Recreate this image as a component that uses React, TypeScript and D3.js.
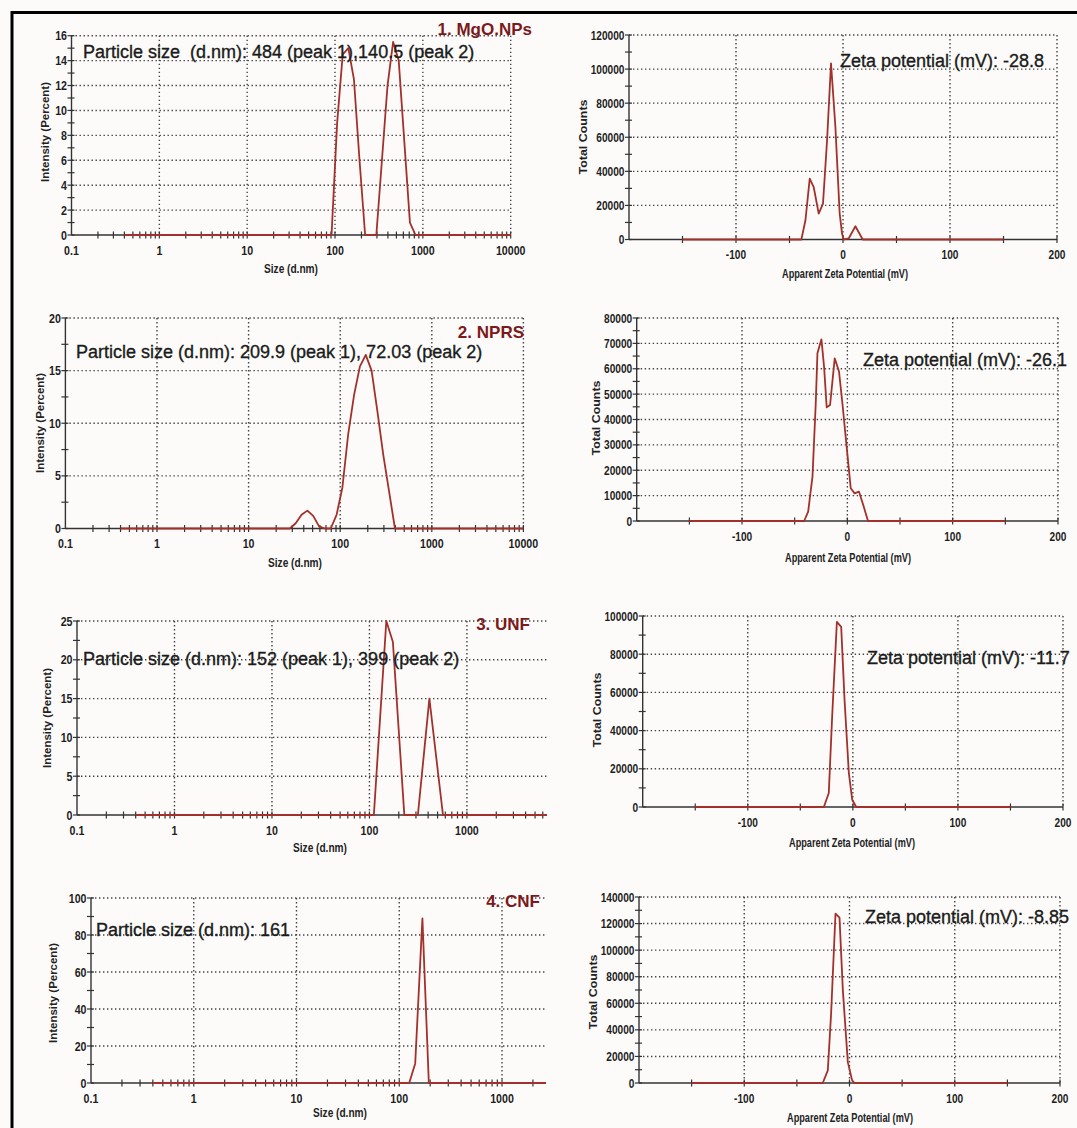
import * as d3 from "d3";
import { useEffect, useRef } from "react";

// ---- DLS size distributions: size (d.nm) vs intensity (%)
const mgoSize = [0.4, 91.3, 105.7, 122.4, 141.8, 164.2, 190.1, 220.2, 295.3, 342, 396.1, 458.7, 531.2, 615.1, 712.4, 825, 10000];
const mgoIntensity = [0, 0, 9, 14.5, 15, 12.5, 6, 0, 0, 6, 12, 15.5, 14, 7.5, 1, 0, 0];

const nprsSize = [0.4, 28.21, 32.67, 37.84, 43.82, 50.75, 58.77, 68.06, 78.82, 91.28, 105.7, 122.4, 141.8, 164.2, 190.1, 220.2, 255, 295.3, 342, 396.1, 10000];
const nprsIntensity = [0, 0, 0.5, 1.3, 1.7, 1.2, 0.2, 0, 0, 1.3, 3.9, 9, 12.7, 15.4, 16.5, 15, 11.1, 7, 3.5, 0, 0];

const unfSize = [0.4, 111, 149, 174, 228, 314, 412, 568, 6630];
const unfIntensity = [0, 0, 25, 22.3, 0, 0, 15, 0, 0];

const cnfSize = [0.4, 125, 143, 168, 194, 2680];
const cnfIntensity = [0, 0, 10.6, 89, 0, 0];

// ---- zeta potential distributions: apparent zeta (mV) vs total counts
const mgoZeta = [-150, -38.9, -35.1, -31.1, -27.4, -22.7, -18.7, -14.9, -11.2, -7.1, -3.1, -0.9, 0.6, 5.3, 11.6, 18.4, 150];
const mgoCounts = [0, 0, 11300, 35700, 30800, 15200, 21000, 58100, 103400, 66000, 15200, 3500, 0, 600, 7800, 0, 0];

const nprsZeta = [-150, -41, -37.2, -33.1, -30, -28.4, -24.6, -22.1, -19.6, -16.4, -12, -7.9, -4.7, -1.6, 0.6, 3.2, 6.9, 11, 15.1, 19.6, 150];
const nprsCounts = [0, 0, 3700, 17500, 46400, 66100, 71600, 60800, 44800, 45700, 64100, 58900, 46400, 33200, 24000, 12900, 10900, 11600, 6300, 0, 0];

const unfZeta = [-150, -27.6, -22.9, -19.7, -15.2, -11.1, -7.9, -3.8, -0.6, 3.2, 150];
const unfCounts = [0, 0, 7300, 47300, 96900, 94300, 56000, 17700, 3800, 0, 0];

const cnfZeta = [-150, -25.4, -20.6, -17.5, -13.3, -9.5, -6.3, -1.6, 2.5, 4.8, 150];
const cnfCounts = [0, 0, 9500, 52000, 127500, 124500, 69500, 15700, 2000, 0, 0];

// ---- tick labels
const sizeTicks = [0.1, 1, 10, 100, 1000, 10000];
const zetaTicks = [-100, 0, 100, 200];
const mgoYTicks = [0, 2, 4, 6, 8, 10, 12, 14, 16];
const nprsYTicks = [0, 5, 10, 15, 20];
const unfYTicks = [0, 5, 10, 15, 20, 25];
const cnfYTicks = [0, 20, 40, 60, 80, 100];
const mgoZYTicks = [0, 20000, 40000, 60000, 80000, 100000, 120000];
const nprsZYTicks = [0, 10000, 20000, 30000, 40000, 50000, 60000, 70000, 80000];
const unfZYTicks = [0, 20000, 40000, 60000, 80000, 100000];
const cnfZYTicks = [0, 20000, 40000, 60000, 80000, 100000, 120000, 140000];

const titles = ["1. MgO.NPs", "2. NPRS", "3. UNF", "4. CNF"];
const sizeNotes = [
  "Particle size  (d.nm): 484 (peak 1),140.5 (peak 2)",
  "Particle size (d.nm): 209.9 (peak 1), 72.03 (peak 2)",
  "Particle size (d.nm): 152 (peak 1), 399 (peak 2)",
  "Particle size (d.nm): 161",
];
const zetaNotes = [
  "Zeta potential (mV): -28.8",
  "Zeta potential (mV): -26.1",
  "Zeta potential (mV): -11.7",
  "Zeta potential (mV): -8.85",
];

const LINE = "#a3312b";
const TITLE = "#7a1a1a";
const GRID = "#444";
const AXIS = "#333";
const SANS = "'Liberation Sans',Arial,sans-serif";

type Panel = {
  kind: "dls" | "zeta";
  xs: number[];
  ys: number[];
  xDomain: [number, number];
  yTicks: number[];
  left: number; right: number; top: number; bottom: number;
  note: string; noteX: number; noteY: number;
  title?: string; titleX?: number; titleY?: number;
  xLab: [number, number]; yLab: [number, number];
};

const panels: Panel[] = [
  { kind: "dls", xs: mgoSize, ys: mgoIntensity, xDomain: [0.1, 10000], yTicks: mgoYTicks,
    left: 71.5, right: 510.7, top: 35.7, bottom: 235, note: sizeNotes[0], noteX: 83, noteY: 58,
    title: titles[0], titleX: 532, titleY: 35, xLab: [291, 273], yLab: [45, 132] },
  { kind: "dls", xs: nprsSize, ys: nprsIntensity, xDomain: [0.1, 10000], yTicks: nprsYTicks,
    left: 65.4, right: 523.4, top: 318, bottom: 528.5, note: sizeNotes[1], noteX: 76, noteY: 358,
    title: titles[1], titleX: 524, titleY: 338, xLab: [295, 567], yLab: [40, 423] },
  { kind: "dls", xs: unfSize, ys: unfIntensity, xDomain: [0.1, 6630], yTicks: unfYTicks,
    left: 77, right: 547, top: 621, bottom: 815, note: sizeNotes[2], noteX: 83, noteY: 665,
    title: titles[2], titleX: 530, titleY: 630, xLab: [320, 852], yLab: [47, 718] },
  { kind: "dls", xs: cnfSize, ys: cnfIntensity, xDomain: [0.1, 2680], yTicks: cnfYTicks,
    left: 91, right: 546, top: 898, bottom: 1083, note: sizeNotes[3], noteX: 96, noteY: 936,
    title: titles[3], titleX: 540, titleY: 907, xLab: [340, 1117], yLab: [53, 993] },
  { kind: "zeta", xs: mgoZeta, ys: mgoCounts, xDomain: [-200, 200], yTicks: mgoZYTicks,
    left: 629, right: 1057, top: 35, bottom: 239.5, note: zetaNotes[0], noteX: 840, noteY: 67,
    xLab: [845, 278], yLab: [583, 137] },
  { kind: "zeta", xs: nprsZeta, ys: nprsCounts, xDomain: [-200, 200], yTicks: nprsZYTicks,
    left: 636.7, right: 1058, top: 318, bottom: 521, note: zetaNotes[1], noteX: 863, noteY: 366,
    xLab: [848, 562], yLab: [596, 418] },
  { kind: "zeta", xs: unfZeta, ys: unfCounts, xDomain: [-200, 200], yTicks: unfZYTicks,
    left: 642.7, right: 1063, top: 616, bottom: 807, note: zetaNotes[2], noteX: 867, noteY: 664,
    xLab: [852, 847], yLab: [597, 710] },
  { kind: "zeta", xs: cnfZeta, ys: cnfCounts, xDomain: [-200, 200], yTicks: cnfZYTicks,
    left: 639, right: 1060, top: 897, bottom: 1083, note: zetaNotes[3], noteX: 865, noteY: 923,
    xLab: [850, 1122], yLab: [593, 992] },
];

// bold tick label, squeezed horizontally like the instrument export
function squeezed(sel: any, size: number, anchor: string) {
  return sel.attr("font-family", SANS).attr("font-weight", "bold")
    .attr("font-size", size).attr("fill", "#1e1e1e").attr("text-anchor", anchor);
}

function drawPanel(svg: any, p: Panel) {
  const g = svg.append("g");
  const isDls = p.kind === "dls";
  const x: any = isDls
    ? d3.scaleLog().domain(p.xDomain).range([p.left, p.right])
    : d3.scaleLinear().domain(p.xDomain).range([p.left, p.right]);
  const yMax = p.yTicks[p.yTicks.length - 1];
  const y = d3.scaleLinear().domain([0, yMax]).range([p.bottom, p.top]);

  // grid (dotted)
  const gridX = isDls
    ? sizeTicks.filter(d => d > p.xDomain[0] && d <= p.xDomain[1])
    : zetaTicks;
  g.selectAll(".hg").data(p.yTicks.filter(d => d > 0)).join("line")
    .attr("x1", p.left).attr("x2", p.right)
    .attr("y1", (d: number) => y(d)).attr("y2", (d: number) => y(d))
    .attr("stroke", GRID).attr("stroke-width", 1.4).attr("stroke-dasharray", "1.4,2.6");
  g.selectAll(".vg").data(gridX).join("line")
    .attr("x1", (d: number) => x(d)).attr("x2", (d: number) => x(d))
    .attr("y1", p.top).attr("y2", p.bottom)
    .attr("stroke", GRID).attr("stroke-width", 1.4).attr("stroke-dasharray", "1.4,2.6");

  // axes
  g.append("line").attr("x1", p.left).attr("x2", p.left).attr("y1", p.top).attr("y2", p.bottom)
    .attr("stroke", AXIS).attr("stroke-width", 1.4);
  g.append("line").attr("x1", p.left).attr("x2", p.right).attr("y1", p.bottom).attr("y2", p.bottom)
    .attr("stroke", AXIS).attr("stroke-width", 1.4);

  // y ticks: majors + midpoints
  const step = p.yTicks[1] - p.yTicks[0];
  const yMinor = p.yTicks.slice(0, -1).map(d => d + step / 2);
  g.selectAll(".yt").data([...p.yTicks, ...yMinor]).join("line")
    .attr("x1", p.left - 4).attr("x2", p.left + 3)
    .attr("y1", (d: number) => y(d)).attr("y2", (d: number) => y(d))
    .attr("stroke", AXIS).attr("stroke-width", 1.2);

  // x ticks
  let xMinor: number[] = [];
  if (isDls) {
    for (let e = -1; e <= 4; e++) for (let m = 1; m <= 9; m++) {
      const v = m * Math.pow(10, e);
      if (v > p.xDomain[0] && v <= p.xDomain[1]) xMinor.push(v);
    }
  } else {
    xMinor = d3.range(-150, 201, 50);
  }
  g.selectAll(".xt").data(xMinor).join("line")
    .attr("x1", (d: number) => x(d)).attr("x2", (d: number) => x(d))
    .attr("y1", p.bottom - 3.5).attr("y2", p.bottom + 3.5)
    .attr("stroke", AXIS).attr("stroke-width", 1.2);

  // tick labels (bold, horizontally condensed)
  const fs = 13;
  const sx = isDls ? 0.82 : 0.78;
  squeezed(g.selectAll(".yl").data(p.yTicks).join("text"), fs, "end")
    .attr("transform", (d: number) => `translate(${p.left - 4.5},${y(d) + 4.6}) scale(${sx},1)`)
    .text((d: number) => String(d));
  const xLabels = isDls ? sizeTicks.filter(d => d <= p.xDomain[1]) : zetaTicks;
  squeezed(g.selectAll(".xl").data(xLabels).join("text"), fs, "middle")
    .attr("transform", (d: number) => `translate(${x(d)},${p.bottom + 19.5}) scale(${sx},1)`)
    .text((d: number) => String(d));

  // series
  const pts = p.xs.map((v, i) => [v, p.ys[i]] as [number, number]);
  g.append("path").datum(pts)
    .attr("d", d3.line<[number, number]>().x(d => x(d[0])).y(d => y(d[1])))
    .attr("fill", "none").attr("stroke", LINE).attr("stroke-width", 1.8)
    .attr("stroke-linejoin", "round");

  // axis titles
  g.append("text").attr("x", p.xLab[0]).attr("y", p.xLab[1]).attr("text-anchor", "middle")
    .attr("font-family", SANS).attr("font-weight", "bold").attr("font-size", 12)
    .attr("fill", "#222")
    .attr("textLength", isDls ? 54 : 126).attr("lengthAdjust", "spacingAndGlyphs")
    .text(isDls ? "Size (d.nm)" : "Apparent Zeta Potential (mV)");
  g.append("text")
    .attr("transform", `translate(${p.yLab[0]},${p.yLab[1]}) rotate(-90)`)
    .attr("text-anchor", "middle").attr("dy", "0.36em")
    .attr("font-family", SANS).attr("font-weight", "bold").attr("font-size", 11.5)
    .attr("fill", "#222")
    .attr("textLength", isDls ? 100 : 75).attr("lengthAdjust", "spacingAndGlyphs")
    .text(isDls ? "Intensity (Percent)" : "Total Counts");

  // annotation
  g.append("text").attr("x", p.noteX).attr("y", p.noteY)
    .attr("font-family", SANS).attr("font-size", 18).attr("fill", "#1b1b1b")
    .attr("stroke", "#1b1b1b").attr("stroke-width", 0.35)
    .style("white-space", "pre").text(p.note);

  if (p.title) {
    g.append("text").attr("x", p.titleX).attr("y", p.titleY).attr("text-anchor", "end")
      .attr("font-family", SANS).attr("font-weight", "bold").attr("font-size", 17)
      .attr("fill", TITLE).text(p.title);
  }
}

const App = () => {
  const ref = useRef<SVGSVGElement>(null);

  useEffect(() => {
    const svg = d3.select(ref.current);
    svg.selectAll("*").remove();
    svg.append("rect").attr("width", 1077).attr("height", 1128).attr("fill", "#fdfbfa");
    svg.append("rect").attr("x", 12).attr("y", 12.5).attr("width", 1100).attr("height", 1140)
      .attr("fill", "none").attr("stroke", "#000").attr("stroke-width", 3);
    panels.forEach(p => drawPanel(svg, p));
  }, []);

  return (
    <svg ref={ref} width={1077} height={1128}
      style={{ position: "absolute", left: 0, top: 0, display: "block" }} />
  );
};

export default App;
